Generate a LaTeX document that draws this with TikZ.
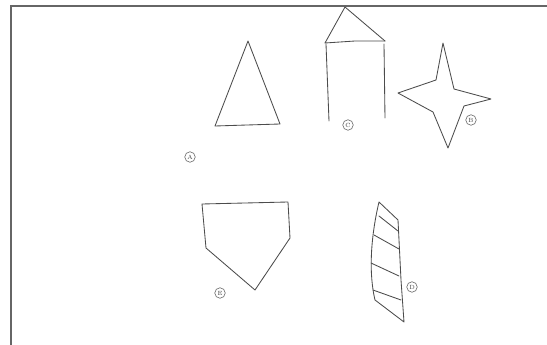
\documentclass[tikz,border=0pt]{standalone}
\begin{document}
\begin{tikzpicture}[x=1pt,y=-1pt,
  pencil/.style={draw=black!70, line width=0.85pt, line join=round, line cap=round},
  lbl/.style={circle, draw=black!60, line width=0.6pt, inner sep=0.6pt, minimum size=10.5pt, font=\fontsize{6}{6}\selectfont, text=black!75}]
\useasboundingbox (0,0) rectangle (547,345);
\fill[white] (0,0) rectangle (547,345);
% frame
\draw[black!60, line width=2pt] (11,346) -- (11,6) -- (548,6);
% triangle
\draw[pencil] (248,41) -- (280,124) -- (247,125) -- (215,126) -- cycle;
% tower
\draw[pencil] (325,43) -- (345,7) -- (385,41);
\draw[pencil] (325,43) -- (355,41) -- (385,41);
\draw[pencil] (326,44) -- (329,121);
\draw[pencil] (384,44) -- (385,118);
% star
\draw[pencil] (443,43) -- (436,80) -- (398,93) -- (433,112) -- (448,148)
  -- (464,106) -- (491,99) -- (454,89) -- cycle;
% pentagon
\draw[pencil] (202,204) -- (288,202) -- (290,238) -- (255,290) -- (206,248) -- cycle;
% striped strip
\draw[pencil] (379,202) -- (398,220) -- (401,280) -- (404,322) -- (375,300)
  .. controls (369,275) and (370,240) .. (379,202);
\draw[pencil] (379,216) -- (398,231);
\draw[pencil] (374,235) -- (399,249);
\draw[pencil] (371,263) -- (399,276);
\draw[pencil] (373,290) -- (401,300);
% labels
\node[lbl] (la) at (190,157) {A};
\node[lbl] (lc) at (348,125) {C};
\node[lbl] (lb) at (471,120) {B};
\node[lbl] (le) at (220,293) {E};
\node[lbl] (ld) at (412,287) {D};
\end{tikzpicture}
\end{document}
